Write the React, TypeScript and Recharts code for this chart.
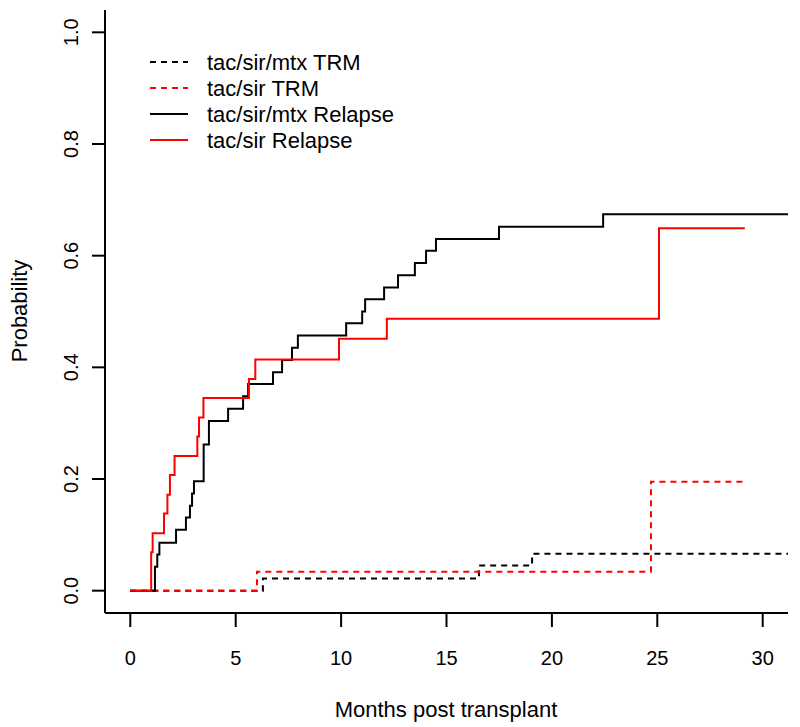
import React from "react";
import { LineChart, Line, XAxis, YAxis, Customized } from "recharts";

// tac/sir/mtx Relapse (black solid)
const mtxRelapseTimes = [0, 1.17, 1.28, 1.38, 2.17, 2.64, 2.83, 2.93, 3.02, 3.48, 3.73, 4.64, 5.35, 5.59, 6.77, 7.2, 7.67, 7.95, 10.24, 11.0, 11.14, 12.04, 12.7, 13.5, 14.03, 14.5, 17.49, 22.43, 31.2];
const mtxRelapseProbs = [0, 0.043, 0.065, 0.086, 0.109, 0.131, 0.152, 0.174, 0.196, 0.262, 0.304, 0.326, 0.348, 0.37, 0.391, 0.413, 0.435, 0.457, 0.479, 0.5, 0.522, 0.543, 0.565, 0.587, 0.609, 0.63, 0.652, 0.674, 0.674];

// tac/sir Relapse (red solid)
const sirRelapseTimes = [0, 0.99, 1.06, 1.6, 1.76, 1.88, 2.1, 3.18, 3.26, 3.47, 5.63, 5.93, 9.9, 12.17, 25.08, 29.15];
const sirRelapseProbs = [0, 0.069, 0.103, 0.138, 0.172, 0.207, 0.241, 0.276, 0.31, 0.345, 0.379, 0.414, 0.451, 0.487, 0.649, 0.649];

// tac/sir/mtx TRM (black dashed)
const mtxTrmTimes = [0, 6.29, 16.54, 19.06, 31.2];
const mtxTrmProbs = [0, 0.022, 0.045, 0.066, 0.066];

// tac/sir TRM (red dashed)
const sirTrmTimes = [0, 6.01, 24.7, 29.2];
const sirTrmProbs = [0, 0.034, 0.195, 0.195];

const xTicks = [0, 5, 10, 15, 20, 25, 30];
const yTicks = [0, 0.2, 0.4, 0.6, 0.8, 1.0];
const yTickLabels = ["0.0", "0.2", "0.4", "0.6", "0.8", "1.0"];

const legendLabels = ["tac/sir/mtx TRM", "tac/sir TRM", "tac/sir/mtx Relapse", "tac/sir Relapse"];
const legendColors = ["#000000", "#ff0000", "#000000", "#ff0000"];
const legendDashed = [true, true, false, false];

const xLabel = "Months post transplant";
const yLabel = "Probability";

const toData = (ts: number[], ps: number[]) => ts.map((t, i) => ({ t, p: ps[i] }));

const mtxRelapse = toData(mtxRelapseTimes, mtxRelapseProbs);
const sirRelapse = toData(sirRelapseTimes, sirRelapseProbs);
const mtxTrm = toData(mtxTrmTimes, mtxTrmProbs);
const sirTrm = toData(sirTrmTimes, sirTrmProbs);

const FONT = "'Liberation Sans', Arial, sans-serif";
const DASH = "6 5";

const XTick = (props: any) => {
  const { x, y, payload } = props;
  return (
    <text x={x} y={y + 38} textAnchor="middle" fontSize={20} fontFamily={FONT} fill="#000">
      {payload.value}
    </text>
  );
};

const YTick = (props: any) => {
  const { x, y, payload } = props;
  const idx = yTicks.findIndex((v) => Math.abs(v - payload.value) < 1e-9);
  const label = idx >= 0 ? yTickLabels[idx] : String(payload.value);
  const bx = x - 14;
  return (
    <text
      x={bx}
      y={y}
      transform={`rotate(-90, ${bx}, ${y})`}
      textAnchor="middle"
      fontSize={20}
      fontFamily={FONT}
      fill="#000"
    >
      {label}
    </text>
  );
};

const Overlay = () => (
  <g>
    {legendLabels.map((lab, i) => {
      const cy = 62 + i * 26;
      return (
        <g key={lab}>
          <line
            x1={150}
            x2={188}
            y1={cy}
            y2={cy}
            stroke={legendColors[i]}
            strokeWidth={2}
            strokeDasharray={legendDashed[i] ? DASH : undefined}
          />
          <text x={207} y={cy + 8} fontSize={22} fontFamily={FONT} fill="#000">
            {lab}
          </text>
        </g>
      );
    })}
    <text x={446} y={717} textAnchor="middle" fontSize={22} fontFamily={FONT} fill="#000">
      {xLabel}
    </text>
    <text
      x={27}
      y={311}
      transform="rotate(-90, 27, 311)"
      textAnchor="middle"
      fontSize={22}
      fontFamily={FONT}
      fill="#000"
    >
      {yLabel}
    </text>
  </g>
);

export default function App() {
  return (
    <div style={{ position: "absolute", left: 0, top: 0, background: "#fff" }}>
      <LineChart width={800} height={727} margin={{ top: 10, right: 12, left: 0, bottom: 0 }}>
        <XAxis
          type="number"
          dataKey="t"
          domain={[-1.2, 31.2]}
          ticks={xTicks}
          interval={0}
          height={114}
          tickSize={14}
          tickMargin={0}
          stroke="#000"
          strokeWidth={2}
          tick={<XTick />}
          allowDataOverflow
        />
        <YAxis
          type="number"
          dataKey="p"
          domain={[-0.04, 1.04]}
          ticks={yTicks}
          interval={0}
          width={105}
          tickSize={13}
          tickMargin={0}
          stroke="#000"
          strokeWidth={2}
          tick={<YTick />}
          allowDataOverflow
        />
        <Line data={mtxTrm} dataKey="p" type="stepAfter" stroke="#000000" strokeWidth={2} strokeDasharray={DASH} dot={false} isAnimationActive={false} />
        <Line data={sirTrm} dataKey="p" type="stepAfter" stroke="#ff0000" strokeWidth={2} strokeDasharray={DASH} dot={false} isAnimationActive={false} />
        <Line data={mtxRelapse} dataKey="p" type="stepAfter" stroke="#000000" strokeWidth={2} dot={false} isAnimationActive={false} />
        <Line data={sirRelapse} dataKey="p" type="stepAfter" stroke="#ff0000" strokeWidth={2} dot={false} isAnimationActive={false} />
        <Customized component={Overlay} />
      </LineChart>
    </div>
  );
}
